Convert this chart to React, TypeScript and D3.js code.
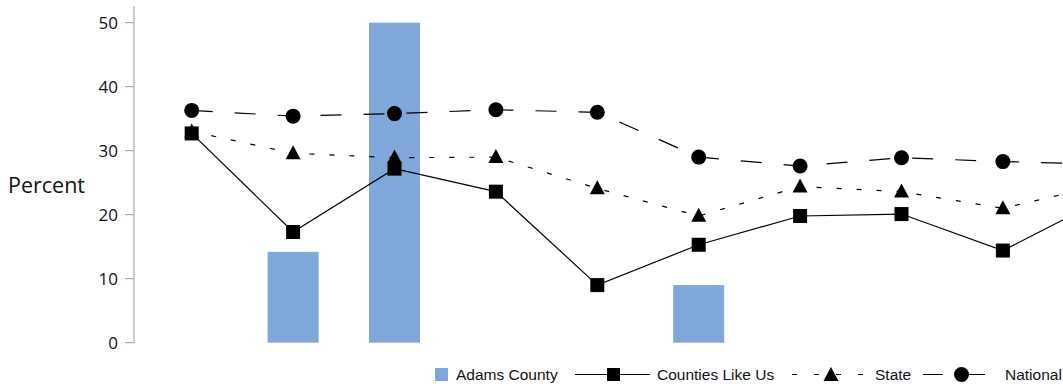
import React from "react";
import * as d3 from "d3";

const categories = ["C1", "C2", "C3", "C4", "C5", "C6", "C7", "C8", "C9", "C10"];
const adamsCounty: (number | null)[] = [null, 14.2, 50, null, null, 9.0, null, null, null, null];
const countiesLikeUs = [32.7, 17.3, 27.2, 23.6, 9.0, 15.3, 19.8, 20.1, 14.4, 22.5];
const stateValues = [33.0, 29.6, 28.9, 29.0, 24.1, 19.8, 24.4, 23.6, 21.0, 24.7];
const nationalValues = [36.3, 35.4, 35.8, 36.4, 36.0, 29.0, 27.6, 28.9, 28.3, 27.9];
const yTicks = [0, 10, 20, 30, 40, 50];
const legendLabels = ["Adams County", "Counties Like Us", "State", "National"];

const W = 1063;
const H = 386;
const BAR_COLOR = "#7fa7d9";

export default function App() {
  const step = 101.4;
  const x = d3
    .scalePoint<string>()
    .domain(categories)
    .range([191.7, 191.7 + step * (categories.length - 1)]);
  const y = d3.scaleLinear().domain([0, 50]).range([342.7, 22.7]);
  const barW = 51;

  const line = d3
    .line<number>()
    .x((_, i) => x(categories[i]) as number)
    .y((d) => y(d));

  const tri = (cx: number, cy: number, w = 15, h = 14) =>
    `M${cx},${cy - h * 0.58}L${cx + w / 2},${cy + h * 0.42}L${cx - w / 2},${cy + h * 0.42}Z`;

  const font = "'Open Sans', 'Noto Sans', sans-serif";
  const legendFont = "'Liberation Sans', Arial, sans-serif";
  const ly = 374.5;
  const textColor = "#111";

  return (
    <svg
      width={W}
      height={H}
      style={{ position: "absolute", left: 0, top: 0, background: "#fff" }}
    >
      {/* bars */}
      {adamsCounty.map((v, i) =>
        v == null ? null : (
          <rect
            key={"b" + i}
            x={(x(categories[i]) as number) - barW / 2}
            y={y(v)}
            width={barW}
            height={y(0) - y(v)}
            fill={BAR_COLOR}
          />
        )
      )}

      {/* y axis */}
      <line x1={134} x2={134} y1={6} y2={y(0)} stroke="#999" strokeWidth={1} />
      {yTicks.map((t) => (
        <g key={t}>
          <line x1={125} x2={134} y1={y(t)} y2={y(t)} stroke="#999" strokeWidth={1} />
          <text
            x={118}
            y={y(t)}
            dy="0.36em"
            textAnchor="end"
            fontFamily={font}
            fontSize={17}
            fill={textColor}
          >
            {t}
          </text>
        </g>
      ))}
      <text x={8} y={193} fontFamily={font} fontSize={21.5} fill={textColor}>
        Percent
      </text>

      {/* lines */}
      <path d={line(countiesLikeUs) || ""} fill="none" stroke="#000" strokeWidth={1.2} />
      <path
        d={line(stateValues) || ""}
        fill="none"
        stroke="#000"
        strokeWidth={1.2}
        strokeDasharray="5,15"
      />
      <path
        d={line(nationalValues) || ""}
        fill="none"
        stroke="#000"
        strokeWidth={1.2}
        strokeDasharray="21,22"
      />

      {countiesLikeUs.map((v, i) => (
        <rect
          key={"s" + i}
          x={(x(categories[i]) as number) - 7}
          y={y(v) - 7}
          width={14}
          height={14}
          fill="#000"
        />
      ))}
      {stateValues.map((v, i) => (
        <path key={"t" + i} d={tri(x(categories[i]) as number, y(v))} fill="#000" />
      ))}
      {nationalValues.map((v, i) => (
        <circle key={"c" + i} cx={x(categories[i]) as number} cy={y(v)} r={7.5} fill="#000" />
      ))}

      {/* legend */}
      <rect x={435} y={368} width={13} height={13} fill={BAR_COLOR} />
      <text x={456} y={380} fontFamily={legendFont} fontSize={15.5} fill={textColor}>
        {legendLabels[0]}
      </text>

      <line x1={575} x2={650} y1={ly} y2={ly} stroke="#000" strokeWidth={1.2} />
      <rect x={607} y={ly - 6.5} width={13} height={13} fill="#000" />
      <text x={657} y={380} fontFamily={legendFont} fontSize={15.5} fill={textColor}>
        {legendLabels[1]}
      </text>

      <line
        x1={792}
        x2={866}
        y1={ly}
        y2={ly}
        stroke="#000"
        strokeWidth={1.2}
        strokeDasharray="5,17"
      />
      <path d={tri(831, ly + 0.5)} fill="#000" />
      <text x={875} y={380} fontFamily={legendFont} fontSize={15.5} fill={textColor}>
        {legendLabels[2]}
      </text>

      <line
        x1={923}
        x2={987}
        y1={ly}
        y2={ly}
        stroke="#000"
        strokeWidth={1.2}
        strokeDasharray="20,22"
      />
      <circle cx={961.5} cy={ly} r={7.5} fill="#000" />
      <text x={1005} y={380} fontFamily={legendFont} fontSize={15.5} fill={textColor}>
        {legendLabels[3]}
      </text>
    </svg>
  );
}
